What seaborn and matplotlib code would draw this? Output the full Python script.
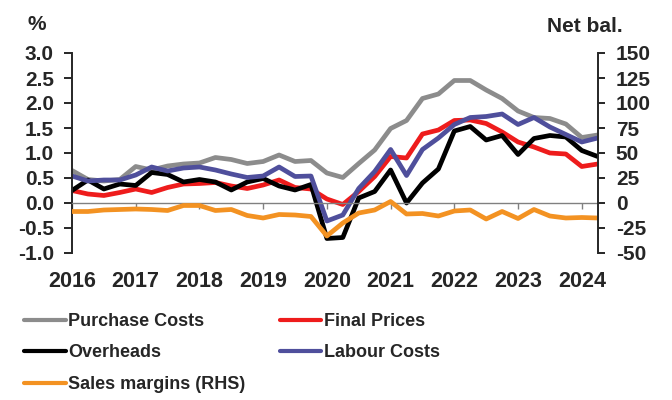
import pandas as pd
import numpy as np
import seaborn as sns
import matplotlib
matplotlib.use("Agg")
from matplotlib import pyplot as plt

# Quarterly data, 2016Q1 - 2024Q2
quarters = [str(p) for p in pd.period_range("2016Q1", "2024Q2", freq="Q")]
year_labels = ["2016", "2017", "2018", "2019", "2020", "2021", "2022", "2023", "2024"]

# LHS, %
purchase_costs = [0.65, 0.47, 0.44, 0.47, 0.73, 0.66, 0.74, 0.78, 0.80, 0.91, 0.87, 0.79,
                  0.83, 0.96, 0.83, 0.85, 0.60, 0.51, 0.79, 1.06, 1.49, 1.65, 2.09, 2.18,
                  2.45, 2.45, 2.26, 2.09, 1.84, 1.71, 1.69, 1.58, 1.31, 1.36]
final_prices = [0.25, 0.18, 0.15, 0.21, 0.28, 0.21, 0.31, 0.38, 0.39, 0.41, 0.34, 0.29,
                0.36, 0.46, 0.31, 0.28, 0.08, -0.03, 0.23, 0.53, 0.93, 0.90, 1.38, 1.46,
                1.65, 1.66, 1.59, 1.42, 1.22, 1.12, 1.00, 0.98, 0.73, 0.78]
overheads = [0.25, 0.46, 0.28, 0.38, 0.35, 0.61, 0.57, 0.42, 0.47, 0.42, 0.26, 0.42,
             0.49, 0.34, 0.26, 0.37, -0.71, -0.69, 0.10, 0.23, 0.66, 0.00, 0.40, 0.68,
             1.44, 1.53, 1.26, 1.35, 0.97, 1.29, 1.35, 1.32, 1.05, 0.93]
labour_costs = [0.54, 0.44, 0.46, 0.46, 0.56, 0.72, 0.64, 0.70, 0.72, 0.66, 0.58, 0.51,
                0.54, 0.72, 0.53, 0.54, -0.36, -0.24, 0.29, 0.63, 1.07, 0.55, 1.07, 1.30,
                1.57, 1.71, 1.73, 1.78, 1.57, 1.71, 1.52, 1.37, 1.22, 1.30]
# RHS, net balance
sales_margins = [-8.5, -8.5, -7, -6.5, -6, -6.5, -7.5, -2.5, -2.5, -7.5, -6.5, -12.5,
                 -15, -11.5, -12, -13.5, -33, -20, -10, -7, 1.5, -11, -10.5, -13,
                 -8, -7, -16, -8.5, -15.5, -6.5, -13, -15, -14.5, -15]

series_names = ["Purchase Costs", "Final Prices", "Overheads", "Labour Costs"]
colors = {"Purchase Costs": "#8c8c8c", "Final Prices": "#ee1c1c",
          "Overheads": "#000000", "Labour Costs": "#4f4f9c"}
margin_color = "#f39222"

idx = np.arange(len(quarters))
df = pd.DataFrame({"idx": idx, "Purchase Costs": purchase_costs, "Final Prices": final_prices,
                   "Overheads": overheads, "Labour Costs": labour_costs})
df_long = df.melt(id_vars="idx", var_name="series", value_name="value")
df_rhs = pd.DataFrame({"idx": idx, "value": sales_margins})

sns.set_style("ticks")
plt.rcParams["font.family"] = ["Liberation Sans", "DejaVu Sans"]
plt.rcParams["font.weight"] = "bold"
plt.rcParams["axes.unicode_minus"] = False

fig = plt.figure(figsize=(6.72, 4.0), dpi=100)
ax = fig.add_axes([72 / 672, 1 - 253 / 400, (597.7 - 72) / 672, 200 / 400])

sns.lineplot(data=df_long, x="idx", y="value", hue="series", hue_order=series_names,
             palette=colors, linewidth=3.4, legend=False, ax=ax)
ax2 = ax.twinx()
sns.lineplot(data=df_rhs, x="idx", y="value", color=margin_color, linewidth=3.4,
             legend=False, ax=ax2)

ax.set_xlim(0, len(quarters) - 1)
ax.set_ylim(-1.0, 3.0)
ax2.set_ylim(-50, 150)
ax.set_yticks(np.arange(-1.0, 3.01, 0.5))
ax.set_yticklabels([f"{v:.1f}" for v in np.arange(-1.0, 3.01, 0.5)])
ax2.set_yticks(np.arange(-50, 151, 25))
ax.set_xticks(np.arange(0, len(quarters), 4))
ax.set_xticklabels(year_labels)
ax.set_xlabel("")
ax.set_ylabel("")
ax2.set_ylabel("")

for a in (ax, ax2):
    a.spines["top"].set_visible(False)
    a.patch.set_visible(False)
ax.spines["right"].set_visible(False)
ax2.spines["left"].set_visible(False)
ax2.spines["bottom"].set_visible(False)
ax.spines["left"].set_linewidth(1.4)
ax2.spines["right"].set_linewidth(1.4)
ax.spines["bottom"].set_position(("data", 0))
ax.spines["bottom"].set_color("#808080")
ax.spines["bottom"].set_linewidth(1.0)

ax.tick_params(axis="y", direction="out", length=6, width=1.4, pad=7, labelsize=15)
ax2.tick_params(axis="y", direction="out", length=5, width=1.4, pad=8, labelsize=15)
ax.tick_params(axis="x", direction="out", length=4, width=1.0, color="#808080",
               pad=45, labelsize=15.5)
for lab in ax.get_xticklabels() + ax.get_yticklabels() + ax2.get_yticklabels():
    lab.set_fontweight("bold")

fig.text(37 / 672, 1 - 25 / 400, "%", ha="center", va="center", fontsize=15, fontweight="bold")
fig.text(585 / 672, 1 - 26 / 400, "Net bal.", ha="center", va="center", fontsize=15,
         fontweight="bold")

lines = ax.get_lines()[:4]
handles = [lines[0], lines[2], ax2.get_lines()[0], lines[1], lines[3]]
labels = ["Purchase Costs", "Overheads", "Sales margins (RHS)", "Final Prices", "Labour Costs"]
leg = fig.legend(handles, labels, loc="upper left", bbox_to_anchor=(24 / 672, 1 - 313 / 400),
                 ncol=2, frameon=False, borderpad=0, borderaxespad=0, handlelength=2.3,
                 handletextpad=0.15, columnspacing=1.9, labelspacing=0.8,
                 prop={"size": 13, "weight": "bold"})
for h in leg.get_lines():
    h.set_linewidth(3.0)

fig.savefig("out.png", dpi=100)
